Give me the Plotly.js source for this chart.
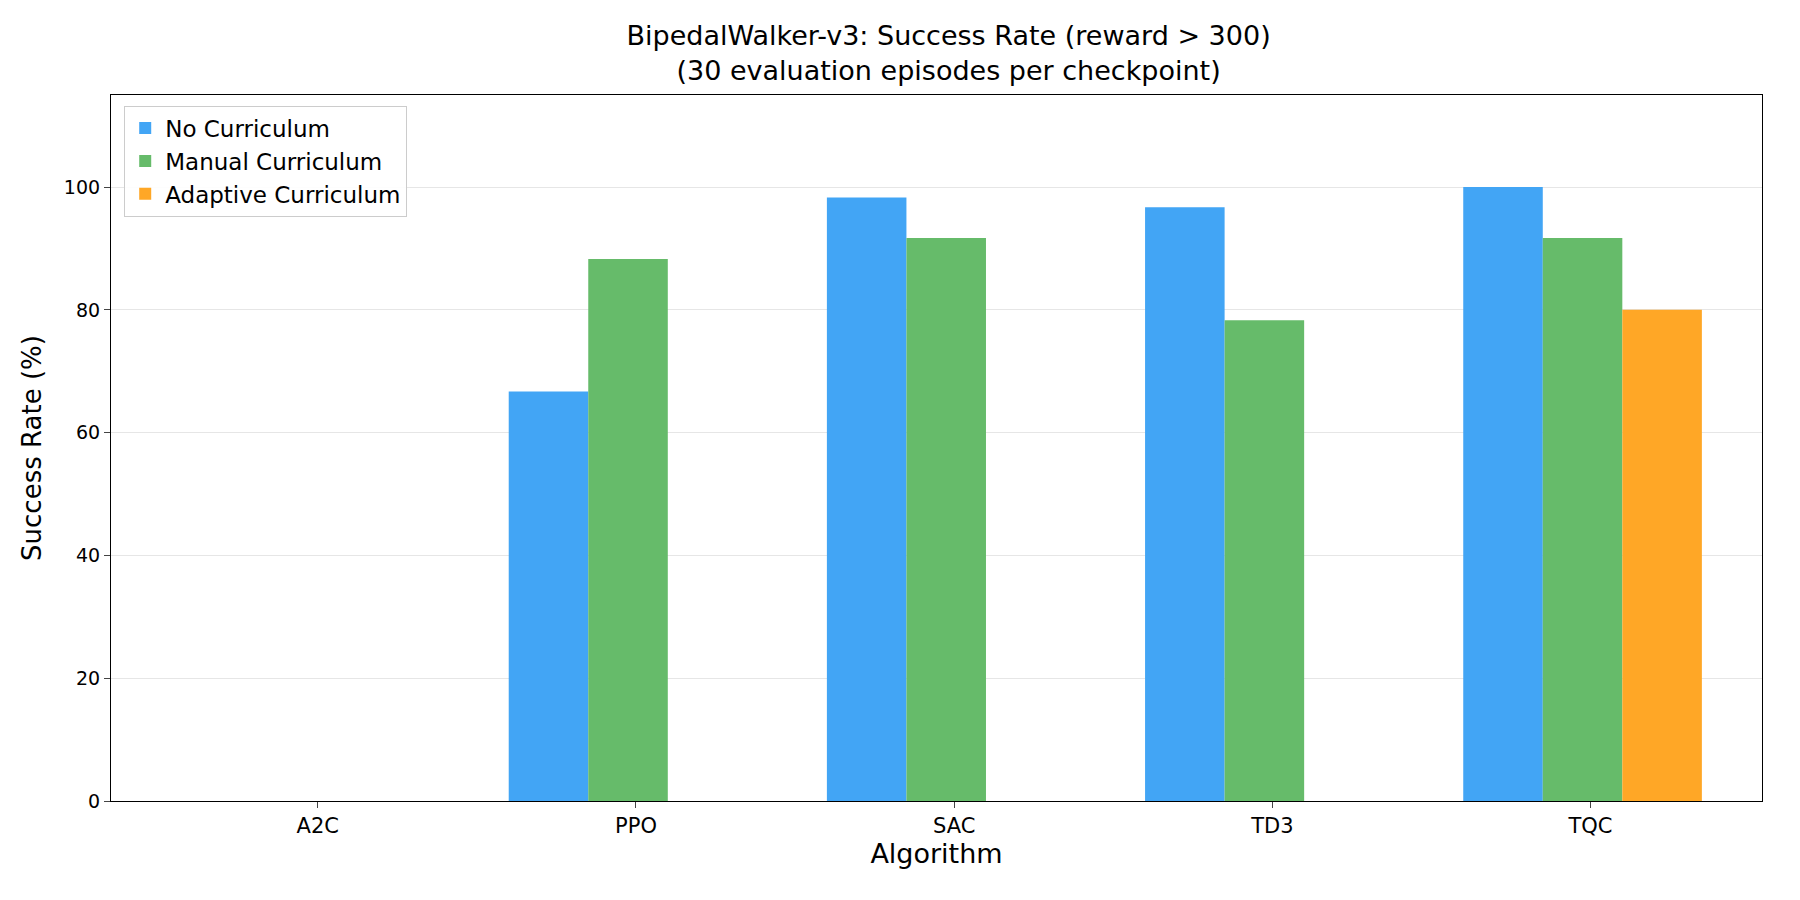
<!DOCTYPE html>
<html>
<head>
<script src="https://cdn.plot.ly/plotly-3.0.1.min.js"></script>
<style>body{margin:0;background:#fff}</style>
</head>
<body>
<div id="chart" style="width:1800px;height:900px"></div>
<script>
const algorithms = ['A2C', 'PPO', 'SAC', 'TD3', 'TQC'];
const noCurriculum = [0, 66.7, 98.3, 96.7, 100];
const manualCurriculum = [0, 88.3, 91.7, 78.3, 91.7];
const adaptiveCurriculum = [0, 0, 0, 0, 80];
const yTicks = [0, 20, 40, 60, 80, 100];

function series(name, values, color, offset) {
  return { type: 'bar', name: name, x: algorithms, y: values,
           width: 0.25, offset: offset,
           marker: { color: color }, hoverinfo: 'y' };
}

const data = [
  series('No Curriculum', noCurriculum, '#42A5F5', -0.4),
  series('Manual Curriculum', manualCurriculum, '#66BB6A', -0.15),
  series('Adaptive Curriculum', adaptiveCurriculum, '#FFA726', 0.1)
];

const layout = {
  width: 1800, height: 900,
  font: { family: 'DejaVu Sans', size: 19, color: '#000' },
  paper_bgcolor: '#fff', plot_bgcolor: '#fff',
  margin: { l: 111, r: 38, t: 95, b: 99 },
  title: { text: 'BipedalWalker-v3: Success Rate (reward > 300)<br>(30 evaluation episodes per checkpoint)',
           font: { size: 27 }, x: 0.527, xanchor: 'center', y: 0.95, yanchor: 'top' },
  barmode: 'overlay',
  xaxis: { title: { text: 'Algorithm', font: { size: 27 }, standoff: 4 },
           range: [-0.65, 4.539],
           showline: true, mirror: true, linecolor: '#000', linewidth: 1.2,
           ticks: 'outside', ticklen: 6, tickfont: { size: 21 } },
  yaxis: { title: { text: 'Success Rate (%)', font: { size: 26 }, standoff: 14 },
           range: [0, 115], tickvals: yTicks, ticks: 'outside', ticklen: 6,
           showline: true, mirror: true, linecolor: '#000', linewidth: 1.2,
           gridcolor: '#e6e6e6', zeroline: false, tickfont: { size: 19 } },
  legend: { x: 0.008, y: 0.985, xanchor: 'left', yanchor: 'top',
            bgcolor: 'rgba(255,255,255,0.9)', bordercolor: '#ccc', borderwidth: 1,
            font: { size: 23 } }
};

Plotly.newPlot('chart', data, layout, { displayModeBar: false });
</script>
</body>
</html>
